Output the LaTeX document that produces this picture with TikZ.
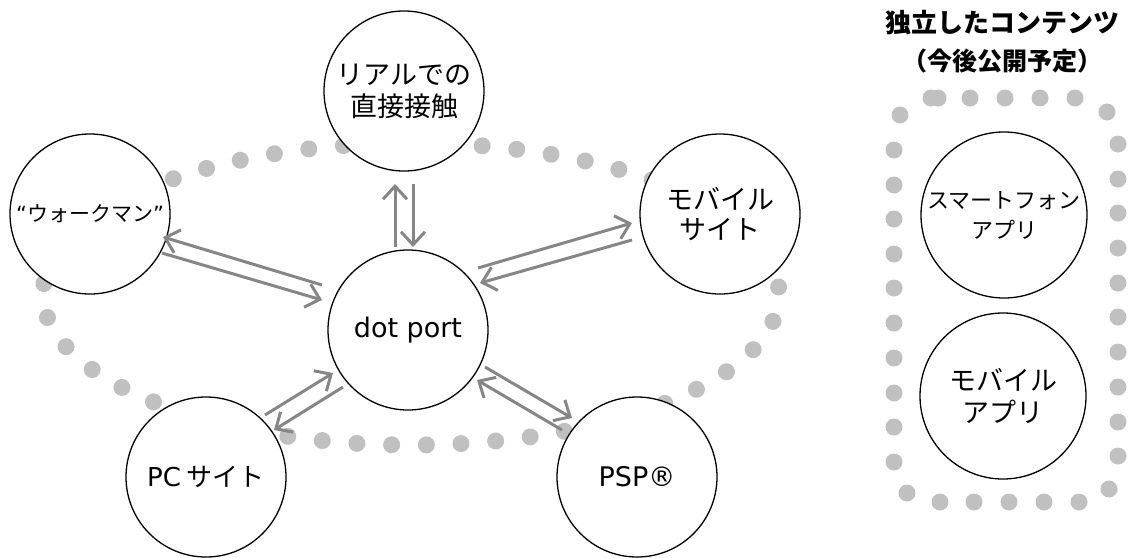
\documentclass[tikz,border=0pt]{standalone}
\usepackage{fontspec}
\newfontfamily\jp{Noto Sans CJK JP}
\newfontfamily\dv{DejaVu Sans}
\usetikzlibrary{arrows.meta,calc,decorations.markings}
\definecolor{dotgray}{RGB}{192,192,192}
\definecolor{arrgray}{RGB}{134,134,134}
\begin{document}
\begin{tikzpicture}[x=1pt,y=-1pt,
  bub/.style={circle, draw, line width=1.3pt, fill=white, minimum size=160pt, inner sep=0pt, align=center},
  arr/.style={draw=arrgray, line width=3pt, -{Straight Barb[length=13pt,width=24pt]}},
  gdot/.style={fill=dotgray}]
\useasboundingbox (0,0) rectangle (1132,557);
% dotted ellipse
\coordinate (ec) at (411,294);
\path[decorate, decoration={markings, mark=between positions 0 and 0.999 step 0.0204082 with {\fill[dotgray] (0,0) circle (8.5pt);}}]
  ($(ec)+(2.66:368pt and 151pt)$) arc[start angle=2.66, end angle=362.66, x radius=368pt, y radius=151pt];
% dotted box
\foreach \p in {(931,98),(938,98),(970,98),(1005,98),(1040,98),(1075,98),(900,115),(1107,112),
  (894,150),(894,185),(894,219),(894,254),(894,288),(894,323),(894,358),(894,393),(894,427),(894,462),
  (1118,144),(1118,179),(1118,213),(1118,248),(1118,283),(1118,317),(1118,352),(1118,387),(1118,422),(1118,456),
  (907,493),(1109,489),(940,502),(974,502),(1009,502),(1044,502),(1079,502)}
  \fill[gdot] \p circle (8.5pt);
% circles
\node[bub, font=\jp\fontsize{27}{32}\selectfont] (top) at (404,91) {リアルでの\\直接接触};
\node[bub, font=\jp\fontsize{21}{25}\selectfont] (wm) at (90,214) {{\dv “}ウォークマン{\dv ”}};
\node[bub, font=\jp\fontsize{27}{30}\selectfont] (ms) at (720,214) {モバイル\\サイト};
\node[bub, font=\dv\fontsize{27}{30}\selectfont] (dp) at (408,330) {dot port};
\node[bub, font=\jp\fontsize{26}{30}\selectfont] (pc) at (206,477) {{\dv PC} サイト};
\node[bub, font=\dv\fontsize{27}{30}\selectfont] (psp) at (637,477) {PSP®};
\node[bub, minimum size=166pt, font=\jp\fontsize{22}{30}\selectfont] (sp) at (1004,215) {スマートフォン\\アプリ};
\node[bub, minimum size=166pt, font=\jp\fontsize{27}{32}\selectfont] (ma) at (1003,396) {モバイル\\アプリ};
% titles
\node[font=\jp\bfseries\fontsize{26}{30}\selectfont] (t1) at (1002,23) {独立したコンテンツ};
\node[font=\jp\bfseries\fontsize{25}{30}\selectfont] (t2) at (1002,61) {（今後公開予定）};
% arrows
\draw[arr] ($(dp)+(-86,-45)$) -- ($(wm)+(73,23)$);
\draw[arr] ($(wm)+(72,39)$) -- ($(dp)+(-86,-30)$);
\draw[arr] ($(dp)+(70,-62)$) -- ($(ms)+(-88,9)$);
\draw[arr] ($(ms)+(-88,26)$) -- ($(dp)+(72,-47)$);
\draw[arr] ($(pc)+(59,-62)$) -- ($(dp)+(-75,43)$);
\draw[arr] ($(dp)+(-65,57)$) -- ($(pc)+(68,-47)$);
\draw[arr] ($(dp)+(77,37)$) -- ($(psp)+(-65,-59)$);
\draw[arr] ($(psp)+(-75,-47)$) -- ($(dp)+(69,50)$);
\draw[arr] ($(dp)+(-13,-83)$) -- ($(top)+(-9,93)$);
\draw[arr] ($(top)+(9,93)$) -- ($(dp)+(5,-83)$);
\end{tikzpicture}
\end{document}
